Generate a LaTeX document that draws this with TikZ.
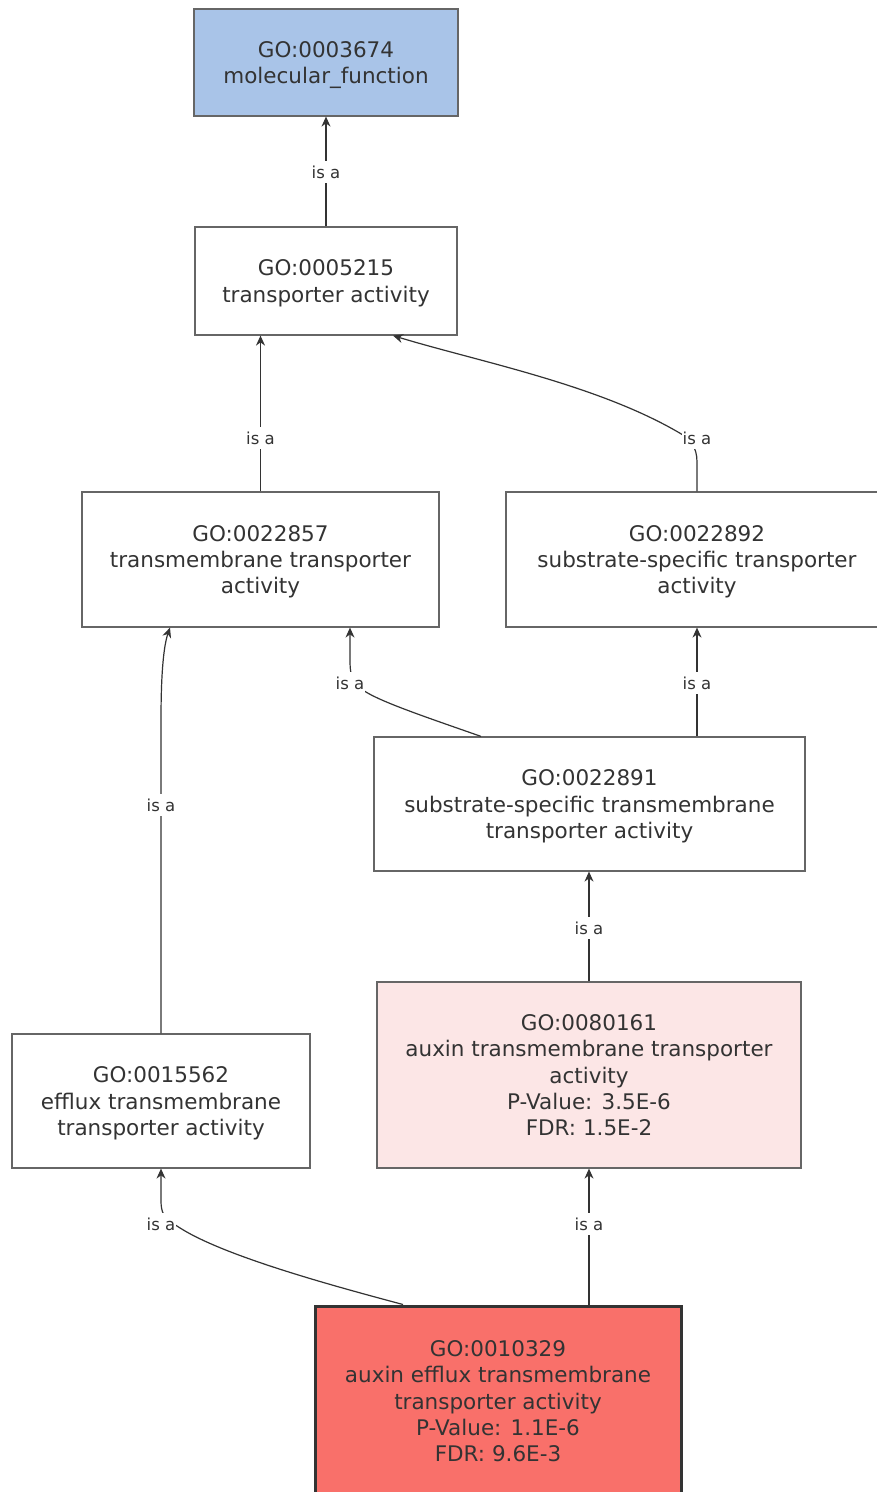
\documentclass[tikz,border=0pt]{standalone}
\usepackage{fontspec}
\setmainfont{DejaVu Sans}
\usetikzlibrary{arrows.meta}
\definecolor{txt}{HTML}{333333}
\definecolor{bord}{HTML}{666666}
\definecolor{blueA}{HTML}{A9C4E8}
\definecolor{pinkA}{HTML}{FCE6E6}
\definecolor{redA}{HTML}{F9706A}
\definecolor{edgeC}{HTML}{333333}
\newcommand\firstln{\rule{0pt}{22pt}}
\begin{document}
\begin{tikzpicture}[x=1pt,y=-1pt,
  term/.style={draw=bord, line width=1.2pt, rectangle, align=center, text=txt,
    font=\fontsize{21.5}{26.3}\selectfont, inner sep=0pt,
    execute at end node={\rule[-6pt]{0pt}{6pt}}},
  isa/.style={font=\fontsize{16.5}{18}\selectfont, text=txt, fill=white,
    inner xsep=1pt, inner ysep=5pt},
  rel/.style={draw=edgeC, line width=1.2pt, -{Stealth[length=10pt,width=9pt]}}]
\useasboundingbox (0,0) rectangle (877,1492);
\clip (0,0) rectangle (877,1492);
\fill[white] (0,0) rectangle (877,1492);

\node[term, fill=blueA, minimum width=264, minimum height=107] (mf) at (326,62.5)
  {\firstln GO:0003674\\molecular\_function};
\node[term, minimum width=262, minimum height=108] (ta) at (326,281)
  {\firstln GO:0005215\\transporter activity};
\node[term, minimum width=357, minimum height=135] (tt) at (260.5,559.5)
  {\firstln GO:0022857\\transmembrane transporter\\activity};
\node[term, minimum width=382, minimum height=135] (ss) at (697,559.5)
  {\firstln GO:0022892\\substrate-specific transporter\\activity};
\node[term, minimum width=431, minimum height=134] (sst) at (589.5,804)
  {\firstln GO:0022891\\substrate-specific transmembrane\\transporter activity};
\node[term, minimum width=298, minimum height=134] (ef) at (161,1101)
  {\firstln GO:0015562\\efflux transmembrane\\transporter activity};
\node[term, fill=pinkA, minimum width=424, minimum height=186] (au) at (589,1075)
  {\firstln GO:0080161\\auxin transmembrane transporter\\activity\\P-Value: 3.5E-6\\FDR: 1.5E-2};
\node[term, fill=redA, draw=txt, line width=3pt, minimum width=366, minimum height=190] (ae) at (498,1401)
  {\firstln GO:0010329\\auxin efflux transmembrane\\transporter activity\\P-Value: 1.1E-6\\FDR: 9.6E-3};

% edges
\draw[rel] (ta.north) -- (mf.south);
\draw[rel] (tt.north) -- (tt.north |- ta.south);
\draw[rel] (ss.north) -- (697,462) .. controls (697,447) and (690,440) .. (683,435)
  .. controls (600,385) and (480,362) .. ([xshift=67pt]ta.south);
\draw[rel] ([xshift=-108.5pt]sst.north) .. controls (420,715) and (375,700) .. (360,688)
  .. controls (351,680) and (350,672) .. (350,660) -- ([xshift=89.5pt]tt.south);
\draw[rel] (ss.south |- sst.north) -- (ss.south);
\draw[rel] (ef.north) -- (161,720) .. controls (161,670) and (164,645) .. ([xshift=-90.5pt]tt.south);
\draw[rel] (au.north) -- (au.north |- sst.south);
\draw[rel] ([xshift=-95pt]ae.north) .. controls (330,1285) and (220,1255) .. (177,1226)
  .. controls (163,1218) and (161,1212) .. (161,1200) -- (ef.south);
\draw[rel] (au.south |- ae.north) -- (au.south);

% labels
\node[isa] (l1) at (326,172) {is a};
\node[isa] (l2) at (260.5,438) {is a};
\node[isa] (l3) at (697,438) {is a};
\node[isa] (l4) at (350,683) {is a};
\node[isa] (l5) at (697,683) {is a};
\node[isa] (l6) at (161,805) {is a};
\node[isa] (l7) at (589,928) {is a};
\node[isa] (l8) at (161,1224) {is a};
\node[isa] (l9) at (589,1224) {is a};
\end{tikzpicture}
\end{document}
